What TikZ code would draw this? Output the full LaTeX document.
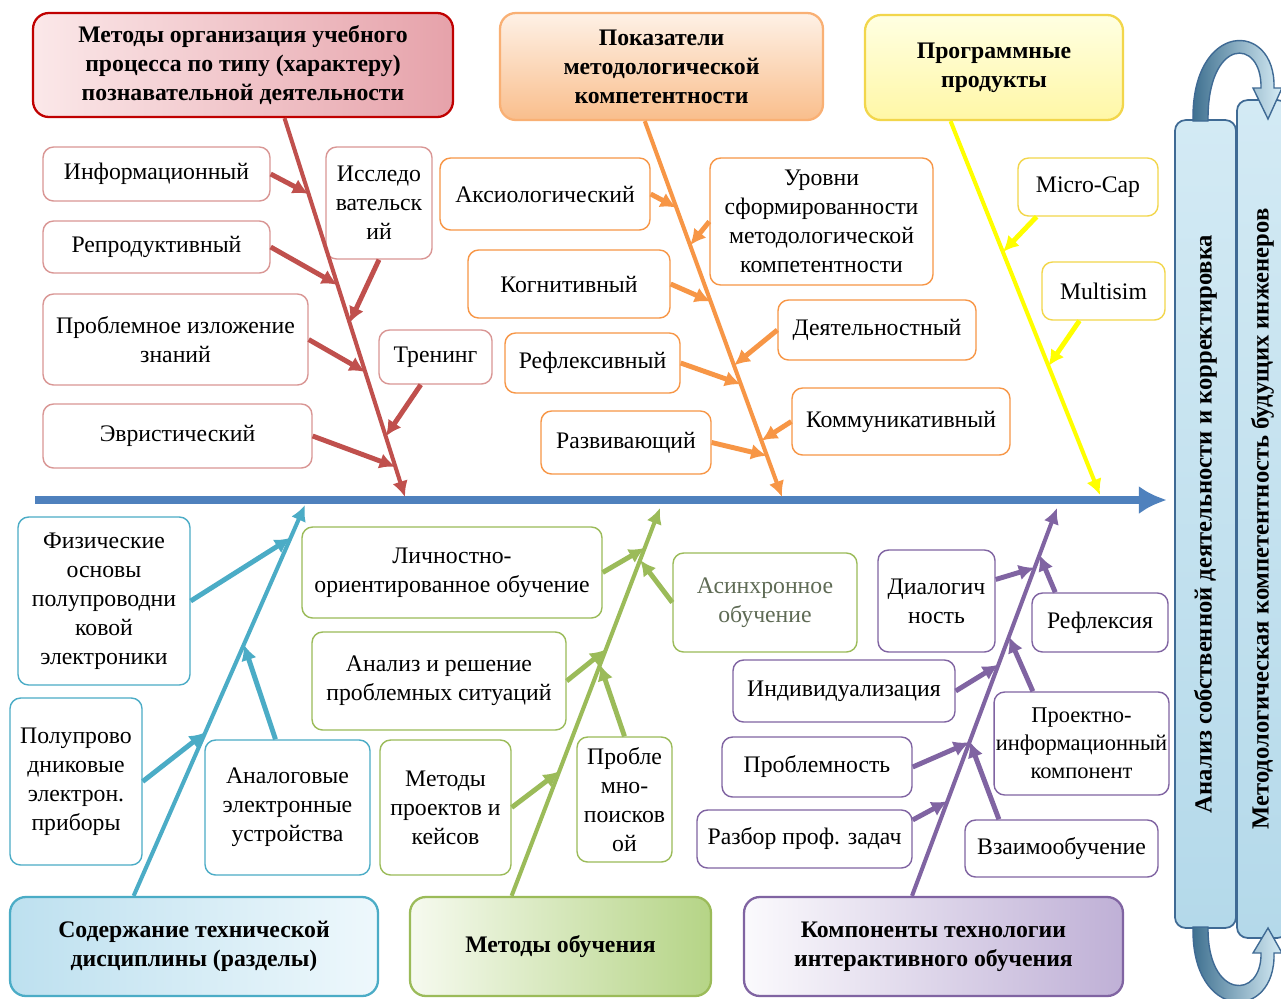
\documentclass[tikz,border=0pt]{standalone}
\usepackage{fontspec}
\setmainfont{Liberation Serif}
\usetikzlibrary{calc,arrows.meta}
\definecolor{spineBlue}{HTML}{4F81BD}
\definecolor{redBone}{HTML}{C0504D}
\definecolor{redDark}{HTML}{C00000}
\definecolor{redLine}{HTML}{D99694}
\definecolor{orangeBone}{HTML}{F79646}
\definecolor{orangeLine}{HTML}{F9B074}
\definecolor{yellowBone}{HTML}{FFFF00}
\definecolor{yellowLine}{HTML}{F2D64B}
\definecolor{tealBone}{HTML}{4BACC6}
\definecolor{greenBone}{HTML}{9BBB59}
\definecolor{purpleBone}{HTML}{8064A2}
\definecolor{headRedL}{HTML}{FBE8E9}
\definecolor{headRedR}{HTML}{E6A2AA}
\definecolor{headOrT}{HTML}{FEF1E6}
\definecolor{headOrB}{HTML}{F9BE8C}
\definecolor{headYeT}{HTML}{FFFFE2}
\definecolor{headYeB}{HTML}{FFF7A6}
\definecolor{headTeL}{HTML}{BDE0EF}
\definecolor{headTeR}{HTML}{EEF8FC}
\definecolor{headGrL}{HTML}{F6FAEF}
\definecolor{headGrR}{HTML}{B5D486}
\definecolor{headPuL}{HTML}{FBFAFD}
\definecolor{headPuR}{HTML}{BFB0D6}
\definecolor{panelLine}{HTML}{3F6A94}
\definecolor{panelTop}{HTML}{D3EAF4}
\definecolor{panelBot}{HTML}{B4D9EA}
\definecolor{loopDark}{HTML}{3C6E8E}
\definecolor{loopLight}{HTML}{D6ECF5}
\definecolor{asinText}{HTML}{5F6B55}
\tikzset{>={Latex[length=9pt,width=9pt]}}
\tikzset{
  box/.style = {draw=#1, fill=white, rounded corners=6pt, line width=0.8pt, align=center, inner sep=1pt, font=\fontsize{13.5}{16.5}\selectfont},
  head/.style = {draw=#1, rounded corners=9pt, line width=1.3pt, align=center, inner sep=1pt, font=\fontsize{13.5}{16.5}\selectfont\bfseries},
  bone/.style = {->, draw=#1, line width=2.3pt},
  twig/.style = {->, draw=#1, line width=2.8pt},
  panel/.style = {draw=panelLine, line width=1pt, rounded corners=6pt, top color=panelTop, bottom color=panelBot, inner sep=1pt, font=\fontsize{14}{16.5}\selectfont\bfseries},
  loop/.style = {left color=loopDark, right color=loopLight, draw=panelLine, line width=0.8pt}
}

\begin{document}
\begin{tikzpicture}[x=0.02cm,y=-0.02cm]
  \useasboundingbox (0,0) rectangle (1281,998);
  \fill[white] (0,0) rectangle (1281,998);
  % heads
  \node (meth) at (243,65) [head=redDark, left color=headRedL, right color=headRedR, minimum width=8.4cm, minimum height=2.08cm] {Методы организация учебного\\процесса по типу (характеру)\\познавательной деятельности};
  \node (pok) at (661.5,66.5) [head=orangeLine, top color=headOrT, bottom color=headOrB, minimum width=6.46cm, minimum height=2.14cm] {Показатели\\методологической\\компетентности};
  \node (prog) at (994,67.5) [head=yellowLine, top color=headYeT, bottom color=headYeB, minimum width=5.16cm, minimum height=2.1cm] {Программные\\продукты};
  \node (soder) at (194,946.5) [head=tealBone, left color=headTeL, right color=headTeR, minimum width=7.36cm, minimum height=1.98cm] {Содержание технической\\дисциплины (разделы)};
  \node (metob) at (560.5,946.5) [head=greenBone, left color=headGrL, right color=headGrR, minimum width=6.02cm, minimum height=1.98cm] {Методы обучения};
  \node (komp) at (933.5,946.5) [head=purpleBone, left color=headPuL, right color=headPuR, minimum width=7.58cm, minimum height=1.98cm] {Компоненты технологии\\интерактивного обучения};

  % red boxes
  \node (inf) at (156.5,174) [box=redLine, minimum width=4.54cm, minimum height=1.08cm] {Информационный};
  \node (rep) at (156.5,247) [box=redLine, minimum width=4.54cm, minimum height=1.04cm] {Репродуктивный};
  \node (prob) at (175.5,339.5) [box=redLine, minimum width=5.3cm, minimum height=1.82cm] {Проблемное изложение\\знаний};
  \node (evr) at (177.5,436) [box=redLine, minimum width=5.38cm, minimum height=1.28cm] {Эвристический};
  \node (issl) at (379,203) [box=redLine, minimum width=2.12cm, minimum height=2.24cm] {Исследо\\вательск\\ий};
  \node (tren) at (435.5,357) [box=redLine, minimum width=2.26cm, minimum height=1.08cm] {Тренинг};
  % orange boxes
  \node (aks) at (545,194) [box=orangeBone, minimum width=4.2cm, minimum height=1.44cm] {Аксиологический};
  \node (urov) at (821.5,221.5) [box=orangeBone, minimum width=4.46cm, minimum height=2.54cm] {Уровни\\сформированности\\методологической\\компетентности};
  \node (kogn) at (569,284) [box=orangeBone, minimum width=4.04cm, minimum height=1.36cm] {Когнитивный};
  \node (deyat) at (877,330) [box=orangeBone, minimum width=3.96cm, minimum height=1.2cm] {Деятельностный};
  \node (reflv) at (592.5,363) [box=orangeBone, minimum width=3.5cm, minimum height=1.2cm] {Рефлексивный};
  \node (komm) at (901,421.5) [box=orangeBone, minimum width=4.36cm, minimum height=1.34cm] {Коммуникативный};
  \node (razv) at (626,442.5) [box=orangeBone, minimum width=3.4cm, minimum height=1.26cm] {Развивающий};
  % yellow boxes
  \node (mcap) at (1088,187) [box=yellowLine, minimum width=2.8cm, minimum height=1.16cm] {Micro-Cap};
  \node (msim) at (1103.5,291) [box=yellowLine, minimum width=2.46cm, minimum height=1.16cm] {Multisim};
  % teal boxes
  \node (fiz) at (104,601) [box=tealBone, minimum width=3.44cm, minimum height=3.36cm] {Физические\\основы\\полупроводни\\ковой\\электроники};
  \node (polu) at (76,781.5) [box=tealBone, minimum width=2.64cm, minimum height=3.34cm] {Полупрово\\дниковые\\электрон.\\приборы};
  \node (analog) at (287.5,807.5) [box=tealBone, minimum width=3.3cm, minimum height=2.7cm] {Аналоговые\\электронные\\устройства};
  % green boxes
  \node (lich) at (452,572.5) [box=greenBone, minimum width=6cm, minimum height=1.82cm] {Личностно-\\ориентированное обучение};
  \node (anrs) at (439,681) [box=greenBone, minimum width=5.08cm, minimum height=1.96cm] {Анализ и решение\\проблемных ситуаций};
  \node (mpk) at (445.5,807.5) [box=greenBone, minimum width=2.62cm, minimum height=2.7cm] {Методы\\проектов и\\кейсов};
  \node (ppois) at (624.5,799.5) [box=greenBone, minimum width=1.9cm, minimum height=2.5cm] {Пробле\\мно-\\поисков\\ой};
  \node (asin) at (765,602.5) [box=greenBone, text=asinText, minimum width=3.68cm, minimum height=1.98cm] {Асинхронное\\обучение};
  % purple boxes
  \node (dial) at (936.5,601) [box=purpleBone, minimum width=2.34cm, minimum height=2.04cm] {Диалогич\\ность};
  \node (reflx) at (1100,622.5) [box=purpleBone, minimum width=2.72cm, minimum height=1.18cm] {Рефлексия};
  \node (indiv) at (844,691) [box=purpleBone, minimum width=4.44cm, minimum height=1.24cm] {Индивидуализация};
  \node (proekt) at (1081.5,743.5) [box=purpleBone, font=\fontsize{12.8}{16}\selectfont, minimum width=3.46cm, minimum height=2.06cm] {Проектно-\\информационный\\компонент};
  \node (probl) at (817,767) [box=purpleBone, minimum width=3.8cm, minimum height=1.2cm] {Проблемность};
  \node (razbor) at (804.5,839) [box=purpleBone, minimum width=4.3cm, minimum height=1.16cm] {Разбор проф. задач};
  \node (vzaim) at (1061.5,848.5) [box=purpleBone, minimum width=3.86cm, minimum height=1.14cm] {Взаимообучение};

  % right panel
  \node (anl) at (1205.5,524) [panel, rotate=90, minimum width=16.16cm, minimum height=1.22cm] {Анализ собственной деятельности и корректировка};
  \node (mkomp) at (1262.5,519) [panel, rotate=90, minimum width=16.76cm, minimum height=1.02cm] {Методологическая компетентность будущих инженеров};
  \shade[loop] (1193,121) .. controls (1191,20) and (1276,20) .. (1274,88) -- (1282,88) -- (1268,119) -- (1253,88) -- (1261,88) .. controls (1262,37) and (1207,37) .. (1208,121) -- cycle;
  \shade[loop] (1193,927) .. controls (1191,1022) and (1276,1022) .. (1274,953) -- (1282,953) -- (1268,928) -- (1253,953) -- (1261,953) .. controls (1262,1000) and (1207,1000) .. (1208,927) -- cycle;

  % spine
  \coordinate (sStart) at (35,500);
  \coordinate (sEnd) at (1167,500);
  \draw[spineBlue, line width=4.5pt, -{Latex[length=16pt,width=16pt]}] (sStart) -- (sEnd);

  % red bone
  \coordinate (rEnd) at (405,497);
  \draw[bone=redBone] (meth.-52) -- (rEnd);
  \coordinate (rInf) at ($(meth.-52)!.2!(rEnd)$);
  \coordinate (rRep) at ($(meth.-52)!.44!(rEnd)$);
  \coordinate (rProb) at ($(meth.-52)!.67!(rEnd)$);
  \coordinate (rEvr) at ($(meth.-52)!.92!(rEnd)$);
  \coordinate (rIssl) at ($(meth.-52)!.54!(rEnd)$);
  \coordinate (rTren) at ($(meth.-52)!.84!(rEnd)$);
  \draw[twig=redBone] (inf.east) -- (rInf);
  \draw[twig=redBone] (rep.east) -- (rRep);
  \draw[twig=redBone] (prob.east) -- (rProb);
  \draw[twig=redBone] (evr.east) -- (rEvr);
  \draw[twig=redBone] (issl.south) -- (rIssl);
  \draw[twig=redBone] (tren.-118) -- (rTren);

  % orange bone
  \coordinate (oEnd) at (782,497);
  \draw[bone=orangeBone] (pok.-107) -- (oEnd);
  \coordinate (oAks) at ($(pok.-107)!.23!(oEnd)$);
  \coordinate (oUrov) at ($(pok.-107)!.33!(oEnd)$);
  \coordinate (oKogn) at ($(pok.-107)!.48!(oEnd)$);
  \coordinate (oDeyat) at ($(pok.-107)!.65!(oEnd)$);
  \coordinate (oRefl) at ($(pok.-107)!.7!(oEnd)$);
  \coordinate (oKomm) at ($(pok.-107)!.85!(oEnd)$);
  \coordinate (oRazv) at ($(pok.-107)!.89!(oEnd)$);
  \draw[twig=orangeBone] (aks.east) -- (oAks);
  \draw[twig=orangeBone] (urov.west) -- (oUrov);
  \draw[twig=orangeBone] (kogn.east) -- (oKogn);
  \draw[twig=orangeBone] (deyat.west) -- (oDeyat);
  \draw[twig=orangeBone] (reflv.east) -- (oRefl);
  \draw[twig=orangeBone] (komm.west) -- (oKomm);
  \draw[twig=orangeBone] (razv.east) -- (oRazv);

  % yellow bone
  \coordinate (yEnd) at (1100,495);
  \draw[bone=yellowBone] (prog.-129) -- (yEnd);
  \coordinate (yMcap) at ($(prog.-129)!.35!(yEnd)$);
  \coordinate (yMsim) at ($(prog.-129)!.655!(yEnd)$);
  \draw[twig=yellowBone] (mcap.-150) -- (yMcap);
  \draw[twig=yellowBone] (msim.-129) -- (yMsim);

  % teal bone
  \coordinate (tEnd) at (305,505);
  \draw[bone=tealBone] (soder.140) -- (tEnd);
  \coordinate (tFiz) at ($(soder.140)!.916!(tEnd)$);
  \coordinate (tPolu) at ($(soder.140)!.418!(tEnd)$);
  \coordinate (tAnalog) at ($(soder.140)!.643!(tEnd)$);
  \draw[twig=tealBone] (fiz.east) -- (tFiz);
  \draw[twig=tealBone] (polu.east) -- (tPolu);
  \draw[twig=tealBone] (analog.100) -- (tAnalog);

  % green bone
  \coordinate (gEnd) at (660,508);
  \draw[bone=greenBone] (metob.134) -- (gEnd);
  \coordinate (gLich) at ($(metob.134)!.897!(gEnd)$);
  \coordinate (gAnrs) at ($(metob.134)!.635!(gEnd)$);
  \coordinate (gMpk) at ($(metob.134)!.321!(gEnd)$);
  \coordinate (gPpois) at ($(metob.134)!.596!(gEnd)$);
  \coordinate (gAsin) at ($(metob.134)!.866!(gEnd)$);
  \draw[twig=greenBone] (lich.east) -- (gLich);
  \draw[twig=greenBone] (anrs.east) -- (gAnrs);
  \draw[twig=greenBone] (mpk.east) -- (gMpk);
  \draw[twig=greenBone] (ppois.north) -- (gPpois);
  \draw[twig=greenBone] (asin.west) -- (gAsin);

  % purple bone
  \coordinate (pEnd) at (1057,508);
  \draw[bone=purpleBone] (komp.113) -- (pEnd);
  \coordinate (pDial) at ($(komp.113)!.846!(pEnd)$);
  \coordinate (pReflx) at ($(komp.113)!.879!(pEnd)$);
  \coordinate (pIndiv) at ($(komp.113)!.596!(pEnd)$);
  \coordinate (pProekt) at ($(komp.113)!.668!(pEnd)$);
  \coordinate (pProbl) at ($(komp.113)!.396!(pEnd)$);
  \coordinate (pRazbor) at ($(komp.113)!.244!(pEnd)$);
  \coordinate (pVzaim) at ($(komp.113)!.398!(pEnd)$);
  \draw[twig=purpleBone] (dial.20) -- (pDial);
  \draw[twig=purpleBone] (reflx.146) -- (pReflx);
  \draw[twig=purpleBone] (indiv.east) -- (pIndiv);
  \draw[twig=purpleBone] (proekt.133) -- (pProekt);
  \draw[twig=purpleBone] (probl.east) -- (pProbl);
  \draw[twig=purpleBone] (razbor.10) -- (pRazbor);
  \draw[twig=purpleBone] (vzaim.155) -- (pVzaim);
\end{tikzpicture}
\end{document}
